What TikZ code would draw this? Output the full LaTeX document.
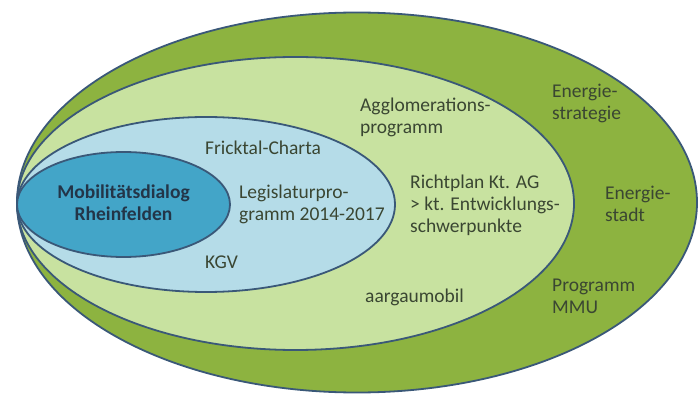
\documentclass[tikz,border=0pt]{standalone}
\usepackage{fontspec}
\setmainfont{Carlito}
\usetikzlibrary{positioning}
\definecolor{outergreen}{HTML}{8DB340}
\definecolor{lightgreen}{HTML}{C8E2A0}
\definecolor{lightblue}{HTML}{B5DCE8}
\definecolor{darkblue}{HTML}{43A5C8}
\definecolor{rim}{HTML}{3A5878}
\definecolor{txt}{HTML}{3A4632}
\tikzset{x=1pt,y=-1pt,ring/.style={draw=rim,line width=1.8pt},label/.style={align=left,text=txt,font=\fontsize{19.5}{22}\selectfont,inner sep=0pt,anchor=west}}

\begin{document}
\begin{tikzpicture}
	\useasboundingbox (0,0) rectangle (698,395);
	\path[ring, fill=outergreen] (357,202.5) ellipse [x radius=340, y radius=190];
	\path[ring, fill=lightgreen] (295.5,203.5) ellipse [x radius=278.5, y radius=146.5];
	\path[ring, fill=lightblue] (206,204.5) ellipse [x radius=189, y radius=87.5];
	\path[ring, fill=darkblue] (123.5,204.5) ellipse [x radius=106.5, y radius=52.5];
	\node[align=center, text=rim!60!black, font=\fontsize{19.5}{22}\selectfont\bfseries] (mobil) at (123.5,203) {Mobilitätsdialog\\Rheinfelden};
	\node[label] (fricktal) at (205,148) {Fricktal-Charta};
	\node[label] (legislatur) at (239,204) {Legislaturpro-\\gramm 2014-2017};
	\node[label] (kgv) at (205,262) {KGV};
	\node[label] (agglo) at (360,117) {Agglomerations-\\programm};
	\node[label] (richtplan) at (410,205) {Richtplan Kt. AG\\> kt. Entwicklungs-\\schwerpunkte};
	\node[label] (aargau) at (365,297) {aargaumobil};
	\node[label] (strategie) at (552,103) {Energie-\\strategie};
	\node[label] (stadt) at (605,204) {Energie-\\stadt};
	\node[label] (mmu) at (552,296) {Programm\\MMU};
\end{tikzpicture}
\end{document}
